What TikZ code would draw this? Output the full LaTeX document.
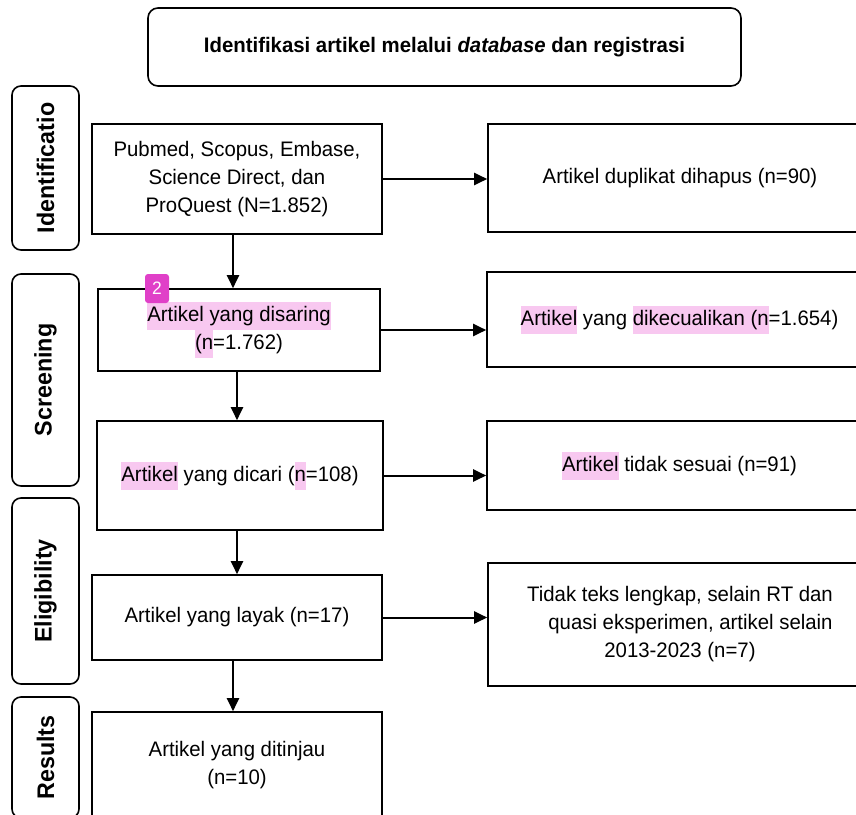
\documentclass[tikz,border=0pt]{standalone}
\usepackage{fontspec}
\setmainfont[FakeStretch=0.97]{Liberation Sans}
\usetikzlibrary{arrows.meta}
\definecolor{hlpink}{HTML}{F8C8F0}
\definecolor{badgepink}{HTML}{E040C8}
\newcommand{\hl}[1]{{\setlength{\fboxsep}{0pt}\colorbox{hlpink}{\strut #1}}}
\begin{document}
\begin{tikzpicture}[x=1pt, y=-1pt, font=\fontsize{21}{28}\selectfont, line width=1.6pt, >={Triangle[length=13pt,width=12pt]}]
    \tikzstyle{title} = [rectangle, rounded corners=10pt, draw, minimum width=593pt, minimum height=78pt, font=\fontsize{21}{25}\selectfont\bfseries]
    \tikzstyle{phase} = [rectangle, rounded corners=9pt, draw, rotate=90, minimum height=67pt, font=\fontsize{24}{28}\selectfont\bfseries]
    \tikzstyle{box} = [rectangle, draw, align=center, inner sep=0pt]
    \tikzstyle{link} = [->, line width=2pt]
    \tikzstyle{badge} = [rectangle, rounded corners=3pt, fill=badgepink, text=white, minimum width=24pt, minimum height=29pt, inner sep=0pt, font=\fontsize{18}{20}\selectfont]
    \useasboundingbox (0,0) rectangle (856,814);

    % Title
    \node [title] (judul) at (444.5,47) {Identifikasi artikel melalui \textit{database} dan registrasi};

    % Phases
    \node [phase, minimum width=164pt] (identifikasi) at (45.5,168) {Identificatio};
    \node [phase, minimum width=212pt] (screening) at (45.5,380) {Screening};
    \node [phase, minimum width=186pt] (eligibility) at (45.5,591) {Eligibility};
    \node [phase, minimum width=121pt] (results) at (45.5,757.5) {Results};

    % Included articles
    \node [box, minimum width=290pt, minimum height=110pt] (database) at (237,179) {Pubmed, Scopus, Embase,\\Science Direct, dan\\ProQuest (N=1.852)};
    \node [box, minimum width=282pt, minimum height=82pt] (disaring) at (239,330) {\hl{Artikel yang disaring}\\\hl{(n}=1.762)};
    \node [box, minimum width=286pt, minimum height=109pt] (dicari) at (240,475.5) {\hl{Artikel} yang dicari (\hl{n}=108)};
    \node [box, minimum width=290pt, minimum height=85pt] (layak) at (237,617.5) {Artikel yang layak (n=17)};
    \node [box, minimum width=290pt, minimum height=106pt] (ditinjau) at (237,765) {Artikel yang ditinjau\\(n=10)};

    % Excluded articles
    \node [box, minimum width=384pt, minimum height=108pt] (duplikat) at (680,178) {Artikel duplikat dihapus (n=90)};
    \node [box, minimum width=385pt, minimum height=95pt] (dikecualikan) at (679.5,319.5) {\hl{Artikel} yang \hl{dikecualikan (n}=1.654)};
    \node [box, minimum width=385pt, minimum height=89pt] (tidaksesuai) at (679.5,465.5) {\hl{Artikel} tidak sesuai (n=91)};
    \node [box, minimum width=384pt, minimum height=123pt] (eksklusi) at (680,624.5) {Tidak teks lengkap, selain RT dan\\\quad quasi eksperimen, artikel selain\\2013-2023 (n=7)};

    % Connections
    \draw [link] ([xshift=-4pt]database.south) -- ([xshift=-4pt]database.south |- disaring.north);
    \draw [link] ([xshift=-2pt]disaring.south) -- ([xshift=-2pt]disaring.south |- dicari.north);
    \draw [link] ([xshift=-3pt]dicari.south) -- ([xshift=-3pt]dicari.south |- layak.north);
    \draw [link] ([xshift=-4pt]layak.south) -- ([xshift=-4pt]layak.south |- ditinjau.north);

    \draw [link] (database.east) -- (database.east -| duplikat.west);
    \draw [link] (disaring.east) -- (disaring.east -| dikecualikan.west);
    \draw [link] (dicari.east) -- (dicari.east -| tidaksesuai.west);
    \draw [link] (layak.east) -- (layak.east -| eksklusi.west);

    % Annotation
    \node [badge] (nomor) at (157,288.5) {2};
\end{tikzpicture}
\end{document}
